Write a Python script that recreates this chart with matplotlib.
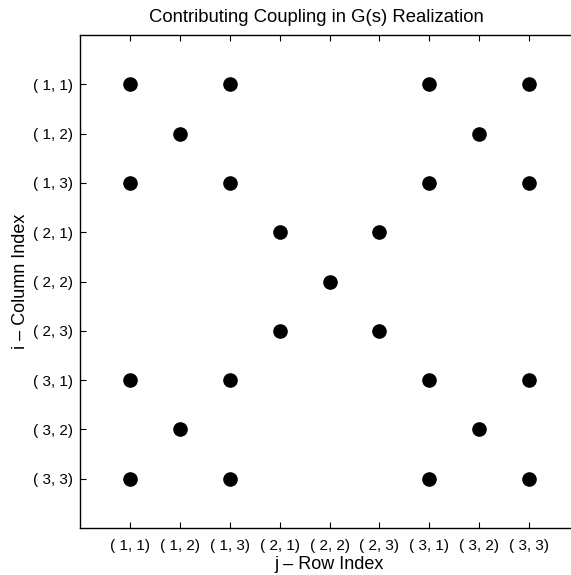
import matplotlib.pyplot as plt

plt.rcParams["font.family"] = ["Liberation Sans", "DejaVu Sans"]

pair_labels = ["( 1, 1)", "( 1, 2)", "( 1, 3)", "( 2, 1)", "( 2, 2)",
               "( 2, 3)", "( 3, 1)", "( 3, 2)", "( 3, 3)"]

# nonzero couplings: row position (j) and column position (i), 1-based
j_idx = [1, 3, 7, 9, 2, 8, 1, 3, 7, 9, 4, 6, 5, 4, 6, 1, 3, 7, 9, 2, 8, 1, 3, 7, 9]
i_idx = [1, 1, 1, 1, 2, 2, 3, 3, 3, 3, 4, 4, 5, 6, 6, 7, 7, 7, 7, 8, 8, 9, 9, 9, 9]

fig = plt.figure(figsize=(5.71, 5.75), dpi=100)
ax = fig.add_axes([80 / 571, 47 / 575, 499 / 571, 493 / 575])

ax.plot(j_idx, i_idx, "o", color="black", markersize=9.5, linestyle="none")

ax.set_xlim(0, 10)
ax.set_ylim(10, 0)
ax.set_xticks(range(1, 10), pair_labels)
ax.set_yticks(range(1, 10), pair_labels)
ax.tick_params(direction="in", length=4, width=0.8, labelsize=11, top=True,
               colors="black")
ax.tick_params(axis="x", pad=8)
ax.tick_params(axis="y", pad=5)
ax.spines["right"].set_visible(False)
for s in ax.spines.values():
    s.set_linewidth(1.0)

ax.set_title("Contributing Coupling in G(s) Realization", fontsize=13.3,
             pad=9, x=0.473)
ax.set_xlabel("j \u2013 Row Index", fontsize=13, labelpad=2)
ax.set_ylabel("i \u2013 Column Index", fontsize=13, labelpad=3)

fig.savefig("out.png", dpi=100)
